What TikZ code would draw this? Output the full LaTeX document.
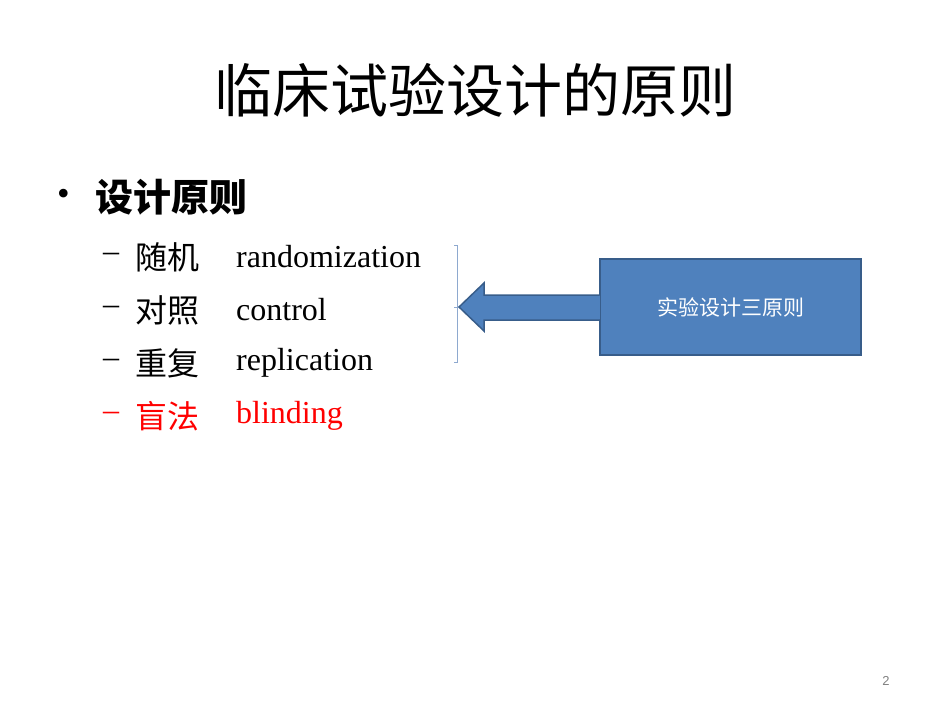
\documentclass[tikz,border=0pt]{standalone}
\usepackage{fontspec}
\setmainfont{Liberation Serif}
\newfontfamily\cjk{Noto Sans CJK SC}
\newfontfamily\cjkb{Noto Sans CJK SC Bold}
\newfontfamily\sans{Liberation Sans}
\definecolor{boxblue}{HTML}{4F81BD}
\definecolor{boxedge}{HTML}{385D8A}
\definecolor{brk}{HTML}{8EA9CF}
\begin{document}
\begin{tikzpicture}[x=1pt,y=-1pt,
  txt/.style={anchor=west,inner sep=0pt},
  item/.style={txt,font=\fontsize{32}{36}\selectfont}]
\useasboundingbox (0,0) rectangle (950,713);
\node[inner sep=0pt] (title) at (475,90) {\cjk\fontsize{58}{64}\selectfont 临床试验设计的原则};
\node[txt] (b) at (57,197) {\fontsize{36}{40}\selectfont •};
\node[txt] (h) at (95,197) {\cjk\bfseries\fontsize{38}{44}\selectfont 设计原则};
\foreach \y/\c/\e/\col [count=\i] in {257/随机/randomization/black,310/对照/control/black,363/重复/replication/black,416/盲法/blinding/red}{
  \node[item,text=\col] (d\i) at (103,\y) {–};
  \node[item,text=\col] (c\i) at (135,\y) {\cjk\fontsize{32}{36}\selectfont \c};
  \node[item,text=\col] (e\i) at (236,\y) {\e};
}
\draw[brk,line width=0.8pt] (454,245) -- (457,245) -- (457,362) -- (454,362);
\draw[brk,line width=0.8pt] (457,307) -- (454,307);
\node[draw=boxedge,line width=1.5pt,fill=boxblue,minimum width=261pt,minimum height=96pt,inner sep=0pt,text=white] (box) at (730.5,307) {\cjk\fontsize{21}{24}\selectfont 实验设计三原则};
\draw[boxedge,line width=1.5pt,fill=boxblue] (box.west |- 0,295) -- (484,295) -- (484,283) -- (459,307) -- (484,331) -- (484,320) -- (box.west |- 0,320);
\fill[boxblue] ([xshift=-1pt]box.west |- 0,296) rectangle ([xshift=1pt]box.west |- 0,319);
\node[inner sep=0pt,text=gray] (pg) at (886,681) {\sans\fontsize{13}{15}\selectfont 2};
\end{tikzpicture}
\end{document}
